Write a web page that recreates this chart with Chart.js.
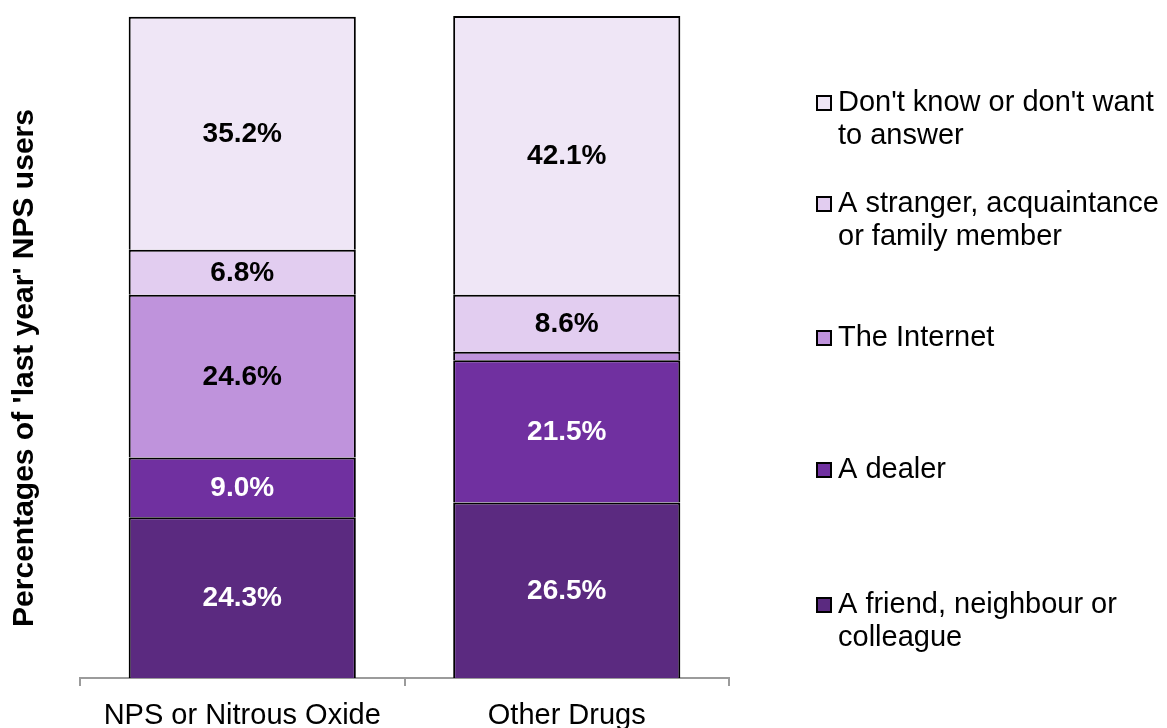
<!DOCTYPE html>
<html>
<head>
<meta charset="utf-8">
<script src="https://cdn.jsdelivr.net/npm/chart.js@4.4.1/dist/chart.umd.min.js"></script>
<style>
  html, body { margin: 0; padding: 0; background: #fff; overflow: hidden; }
  #wrap { width: 1167px; height: 745px; }
</style>
</head>
<body>
<div id="wrap"><canvas id="chart"></canvas></div>
<script>
// Source of NPS / other drugs for 'last year' users (%)
const categories = ['NPS or Nitrous Oxide', 'Other Drugs'];
const friend = [24.3, 26.5];
const dealer = [9.0, 21.5];
const internet = [24.6, 1.3];
const stranger = [6.8, 8.6];
const dontKnow = [35.2, 42.1];

const seriesNames = [
  ['A friend, neighbour or', 'colleague'],
  ['A dealer'],
  ['The Internet'],
  ['A stranger, acquaintance', 'or family member'],
  ["Don't know or don't want", 'to answer']
];
const yTitle = "Percentages of 'last year' NPS users";

const FONT = 'Arial, "Liberation Sans", sans-serif';
const colors = ['#5B2A80', '#7030A0', '#BF93DC', '#E2CDF0', '#EFE6F6'];
const labelColors = ['#ffffff', '#ffffff', '#000000', '#000000', '#000000'];

// value labels in the middle of each segment
const segmentLabels = {
  id: 'segmentLabels',
  afterDatasetsDraw(chart) {
    const ctx = chart.ctx;
    ctx.save();
    ctx.font = 'bold 28px ' + FONT;
    ctx.textAlign = 'center';
    ctx.textBaseline = 'middle';
    chart.data.datasets.forEach((ds, i) => {
      chart.getDatasetMeta(i).data.forEach((bar, j) => {
        const v = ds.data[j];
        if (v < 3) return;
        ctx.fillStyle = labelColors[i];
        ctx.fillText(v.toFixed(1) + '%', bar.x, (bar.y + bar.base) / 2 + 1);
      });
    });
    ctx.restore();
  }
};

// rotated y title and the legend on the right
const sideText = {
  id: 'sideText',
  afterDraw(chart) {
    const ctx = chart.ctx;
    ctx.save();
    ctx.translate(25, 368);
    ctx.rotate(-Math.PI / 2);
    ctx.font = 'bold 30px ' + FONT;
    ctx.fillStyle = '#000';
    ctx.textAlign = 'center';
    ctx.textBaseline = 'middle';
    ctx.fillText(yTitle, 0, 0);
    ctx.restore();

    const rows = [605, 470, 338, 204, 103];
    ctx.save();
    ctx.font = '29px ' + FONT;
    ctx.textBaseline = 'middle';
    seriesNames.forEach((lines, i) => {
      const y = rows[i];
      ctx.fillStyle = colors[i];
      ctx.fillRect(817, y - 7, 14, 14);
      ctx.strokeStyle = '#000';
      ctx.lineWidth = 2;
      ctx.strokeRect(817, y - 7, 14, 14);
      ctx.fillStyle = '#000';
      lines.forEach((t, k) => ctx.fillText(t, 838, y + k * 33));
    });
    ctx.restore();
  }
};

const series = [friend, dealer, internet, stranger, dontKnow];

new Chart(document.getElementById('chart'), {
  type: 'bar',
  data: {
    labels: categories,
    datasets: series.map((d, i) => ({
      label: seriesNames[i].join(' '),
      data: d,
      backgroundColor: colors[i],
      borderColor: '#000',
      borderWidth: 2,
      barPercentage: 0.7,
      categoryPercentage: 1
    }))
  },
  options: {
    responsive: true,
    maintainAspectRatio: false,
    animation: false,
    layout: { padding: { left: 80, right: 438, top: 16, bottom: 0 } },
    plugins: { legend: { display: false }, tooltip: { enabled: false } },
    scales: {
      x: {
        stacked: true,
        grid: {
          display: true,
          offset: true,
          drawOnChartArea: false,
          color: '#9b9b9b',
          lineWidth: 2,
          tickLength: 8
        },
        border: { display: true, color: '#9b9b9b', width: 2 },
        ticks: {
          color: '#000',
          padding: 15,
          font: { family: FONT, size: 29, lineHeight: 1.0 }
        }
      },
      y: {
        stacked: true,
        display: false,
        min: 0,
        max: 100
      }
    }
  },
  plugins: [segmentLabels, sideText]
});
</script>
</body>
</html>
